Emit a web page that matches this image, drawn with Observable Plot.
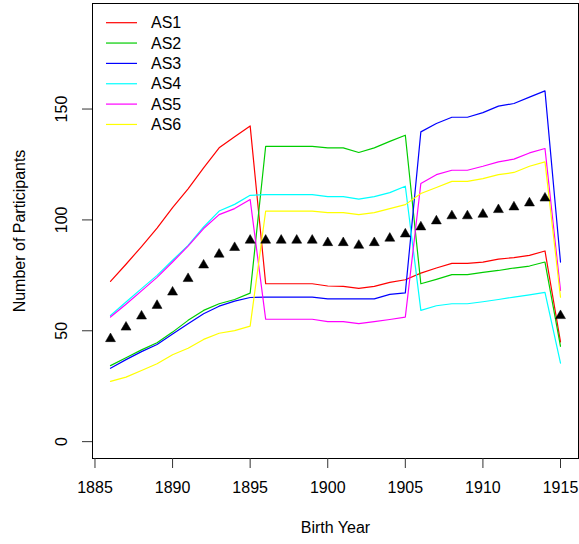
<!DOCTYPE html>
<html>
<head>
<meta charset="utf-8">
<script src="https://cdn.jsdelivr.net/npm/d3@7"></script>
<script src="https://cdn.jsdelivr.net/npm/@observablehq/plot@0.6"></script>
<style>
  html, body { margin: 0; padding: 0; background: #fff; }
</style>
</head>
<body>
<div id="chart"></div>
<script>
const years = [1886, 1887, 1888, 1889, 1890, 1891, 1892, 1893, 1894, 1895,
               1896, 1897, 1898, 1899, 1900, 1901, 1902, 1903, 1904, 1905,
               1906, 1907, 1908, 1909, 1910, 1911, 1912, 1913, 1914, 1915];

const seriesNames = ["AS1", "AS2", "AS3", "AS4", "AS5", "AS6"];
const seriesColors = ["#FF0000", "#00CD00", "#0000FF", "#00FFFF", "#FF00FF", "#FFFF00"];

const as1 = [72.3, 80, 88, 96.3, 105.5, 114, 123.5, 132.5, 137.5, 142.4,
             71.2, 71.2, 71.2, 71.2, 70.2, 70.0, 69.1, 70.0, 71.8, 73.0,
             76.0, 78.3, 80.4, 80.4, 81.0, 82.3, 83.0, 84.0, 86.0, 45];
const as2 = [34.3, 37.8, 41.4, 44.6, 49.4, 54.7, 59.2, 62.2, 64.1, 67.0,
             133.2, 133.2, 133.2, 133.2, 132.5, 132.5, 130.4, 132.5, 135.4, 138.2,
             71.2, 73.2, 75.3, 75.3, 76.3, 77.2, 78.3, 79.2, 81.0, 43];
const as3 = [33.1, 37.0, 40.6, 43.8, 48.6, 53.2, 57.7, 61.1, 63.4, 65.0,
             65.2, 65.2, 65.2, 65.2, 64.4, 64.4, 64.4, 64.4, 66.4, 67.1,
             139.7, 143.5, 146.3, 146.3, 148.4, 151.3, 152.5, 155.4, 158.2, 81];
const as4 = [56.9, 63, 69, 75, 81.8, 88.5, 96.8, 104, 107, 111.1,
             111.4, 111.4, 111.4, 111.4, 110.5, 110.5, 109.4, 110.5, 112.3, 115.2,
             59.2, 61.3, 62.2, 62.2, 63.1, 64.1, 65.2, 66.2, 67.3, 35.4];
const as5 = [56.2, 62, 68, 74.1, 81, 88.2, 96.1, 102.4, 105.1, 109.2,
             55.2, 55.2, 55.2, 55.2, 54.1, 54.1, 53.2, 54.1, 55.1, 56.2,
             116.4, 120.4, 122.4, 122.4, 124.2, 126.2, 127.4, 130.2, 132.2, 68.2];
const as6 = [27.2, 29.1, 32.1, 35.1, 39.2, 42.1, 46.1, 48.9, 50.1, 52.1,
             104.0, 104.0, 104.0, 104.0, 103.3, 103.3, 102.4, 103.3, 105.1, 106.9,
             111.9, 114.6, 117.4, 117.4, 118.6, 120.4, 121.4, 124.2, 126.2, 65.2];
const meanValues = [46.4, 51.6, 56.6, 61.4, 67.4, 73.5, 79.6, 84.5, 87.5, 90.8,
                    90.8, 90.8, 90.8, 90.8, 89.7, 89.7, 88.5, 89.7, 91.7, 93.6,
                    96.8, 99.5, 101.8, 101.8, 102.5, 104.6, 105.8, 107.6, 109.8, 56.8];

const xTicks = [1885, 1890, 1895, 1900, 1905, 1910, 1915];
const yTicks = [0, 50, 100, 150];
const xTitle = "Birth Year";
const yTitle = "Number of Participants";

const seriesValues = [as1, as2, as3, as4, as5, as6];
const lineData = seriesNames.flatMap((name, i) =>
  years.map((yr, j) => ({year: yr, value: seriesValues[i][j], series: name})));
const meanData = years.map((yr, j) => ({year: yr, value: meanValues[j]}));

const FONT = "'Liberation Sans', Arial, Helvetica, sans-serif";

const chart = Plot.plot({
  width: 579,
  height: 544,
  marginLeft: 92,
  marginRight: 1,
  marginTop: 3,
  marginBottom: 86,
  style: {fontFamily: FONT, fontSize: "16px", color: "black", background: "white"},
  x: {domain: [1884.84, 1916.16], label: null},
  y: {domain: [-7.6, 197.6], label: null},
  color: {domain: seriesNames, range: seriesColors},
  marks: [
    Plot.line(lineData, {x: "year", y: "value", z: "series", stroke: "series", strokeWidth: 1.2}),
    Plot.dot(meanData, {x: "year", y: "value", symbol: "triangle", r: 3.7, fill: "black", stroke: "black", strokeWidth: 0.5}),
    Plot.frame({stroke: "black", strokeWidth: 1}),
    Plot.axisX({ticks: xTicks, tickSize: 10, tickPadding: 13, tickFormat: d => String(d), label: null, fill: "black", stroke: "#333"}),
    Plot.axisY({ticks: yTicks, tickSize: 10, tickFormat: () => "", label: null, stroke: "#333"}),
    Plot.text(yTicks, {y: d => d, text: d => String(d), frameAnchor: "left", dx: -31, rotate: -90, textAnchor: "middle", lineAnchor: "middle", fill: "black"}),
    Plot.text([yTitle], {text: d => d, frameAnchor: "left", dx: -73, rotate: -90, textAnchor: "middle", lineAnchor: "middle", fill: "black"}),
    Plot.text([xTitle], {text: d => d, frameAnchor: "bottom", dy: 69, textAnchor: "middle", lineAnchor: "middle", fill: "black"})
  ]
});

// legend (top-left, inside the plot, no box)
const svg = d3.select(chart);
const lg = svg.append("g")
  .attr("font-family", FONT)
  .attr("font-size", 16)
  .attr("text-anchor", "start");
seriesNames.forEach((name, i) => {
  const yy = 22.7 + i * 20.35;
  lg.append("line")
    .attr("x1", 106).attr("x2", 137)
    .attr("y1", yy).attr("y2", yy)
    .attr("stroke", seriesColors[i]).attr("stroke-width", 1.2);
  lg.append("text")
    .attr("x", 151).attr("y", yy)
    .attr("dy", "0.35em")
    .attr("text-anchor", "start")
    .attr("fill", "black")
    .text(name);
});

document.getElementById("chart").appendChild(chart);
</script>
</body>
</html>
